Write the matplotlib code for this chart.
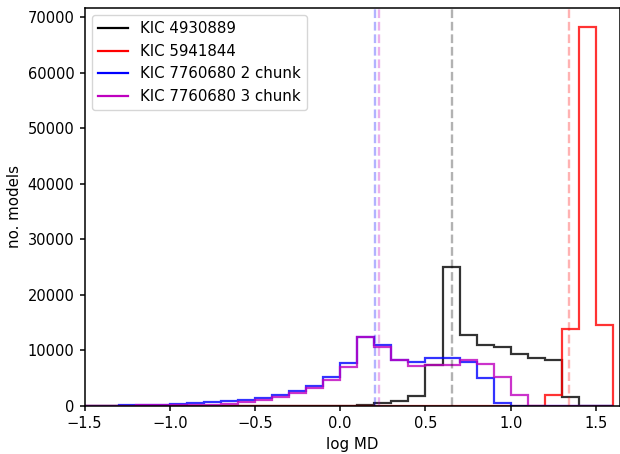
import numpy as np
import matplotlib
matplotlib.use("Agg")
import matplotlib.pyplot as plt
from matplotlib.lines import Line2D

# bin edges: -1.5 .. 1.6 in steps of 0.1
bin_edges = np.round(np.arange(-1.5, 1.6001, 0.1), 2)
bin_centers = (bin_edges[:-1] + bin_edges[1:]) / 2

# counts per bin (31 bins from -1.5 to 1.6)
kic4930889 = [0, 0, 0, 0, 0, 0, 0, 0, 0, 0, 0, 0, 0, 0, 0,
              80, 150, 480, 900, 1800, 7300, 25100, 12800, 11000, 10700,
              9400, 8700, 8300, 1600, 60, 0]
kic5941844 = [0] * 27 + [1980, 13900, 68260, 14520]
kic7760680_2 = [60, 90, 130, 180, 260, 350, 480, 670, 850, 1130,
                1440, 1980, 2640, 3660, 5160, 7680, 12470, 10980, 8280, 7970,
                8690, 8690, 7970, 5100, 500, 0, 0, 0, 0, 0, 0]
kic7760680_3 = [40, 60, 90, 120, 160, 200, 230, 200, 350, 650,
                1100, 1700, 2300, 3200, 4600, 7070, 12400, 10560, 8280, 7250,
                7380, 7380, 8280, 7500, 5160, 1920, 0, 0, 0, 0, 0]

labels = ["KIC 4930889", "KIC 5941844", "KIC 7760680 2 chunk", "KIC 7760680 3 chunk"]
colors = ["k", "r", "b", "m"]
series = [kic4930889, kic5941844, kic7760680_2, kic7760680_3]
medians = [0.657, 1.344, 0.203, 0.226]

fs = 10.8
fig = plt.figure(figsize=(6.2, 4.54), dpi=100)
ax = fig.add_axes([84.5 / 620, 48 / 454, (620 - 84.5) / 620, 398 / 454])

for vals, c in zip(series, colors):
    ax.hist(bin_centers, bins=bin_edges, weights=vals, histtype="step",
            color=c, alpha=0.8, linewidth=1.6)
for m, c in zip(medians, colors):
    ax.axvline(m, color=c, linestyle="--", alpha=0.3, linewidth=1.7)

ax.set_xlim(-1.5, 1.641)
ax.set_ylim(0, max(kic5941844) * 1.05)
ax.set_xlabel("log MD", fontsize=fs)
ax.set_ylabel("no. models", fontsize=fs)
ax.tick_params(labelsize=10.5, width=1.1, length=3.8)
for s in ax.spines.values():
    s.set_linewidth(1.1)

handles = [Line2D([0], [0], color=c, lw=1.6) for c in colors]
ax.legend(handles, labels, loc="upper left", fontsize=fs)

fig.savefig("out.png", dpi=100)
